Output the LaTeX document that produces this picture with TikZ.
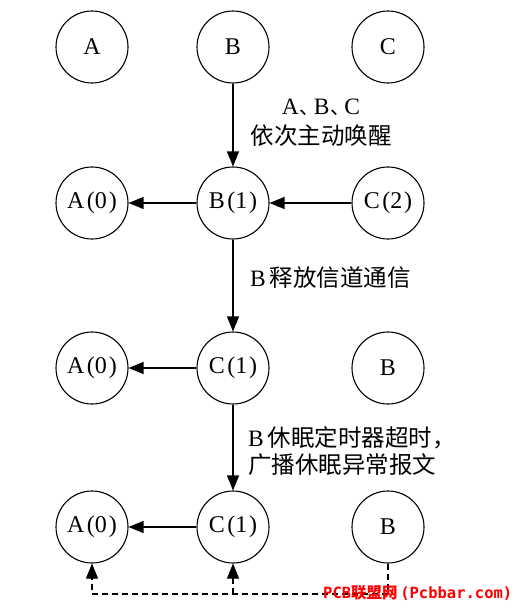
\documentclass[tikz,border=0pt]{standalone}
\usepackage{fontspec}
\setmainfont{Liberation Serif}
\newfontfamily\cjk{Noto Sans CJK SC}
\newfontfamily\wmono{DejaVu Sans Mono}
\usetikzlibrary{arrows.meta}
\newcommand{\pn}[2]{#1\kern2.5pt(#2\kern2pt)}
\newcommand{\dun}{\kern1pt\makebox[14pt][l]{\cjk\fontsize{20}{24}\selectfont 、}}
\begin{document}
\begin{tikzpicture}[x=1pt,y=-1pt,
  st/.style={circle,draw,line width=1.1pt,minimum size=72pt,inner sep=0pt,font=\fontsize{24}{26}\selectfont},
  arr/.style={line width=1.2pt,-{Triangle[length=15pt,width=12pt]}},
  darr/.style={line width=1.1pt,dash pattern=on 6pt off 4pt,-{Triangle[length=15pt,width=12pt]}},
  lbl/.style={font=\fontsize{23.5}{30}\selectfont,inner sep=0pt}]
\useasboundingbox (0,0) rectangle (530,608);
\node[st] (a0) at (92,47) {A};
\node[st] (b0) at (233,47) {B};
\node[st] (c0) at (388,47) {C};
\node[st] (a1) at (92,203) {\pn{A}{0}};
\node[st] (b1) at (233,203) {\pn{B}{1}};
\node[st] (c1) at (388,203) {\pn{C}{2}};
\node[st] (a2) at (92,368) {\pn{A}{0}};
\node[st] (c2) at (233,368) {\pn{C}{1}};
\node[st] (bb2) at (388,368) {B};
\node[st] (a3) at (92,527) {\pn{A}{0}};
\node[st] (c3) at (233,527) {\pn{C}{1}};
\node[st] (bb3) at (388,527) {B};
\draw[arr] (b0) -- (b1);
\draw[arr] (b1) -- (a1);
\draw[arr] (c1) -- (b1);
\draw[arr] (b1) -- (c2);
\draw[arr] (c2) -- (a2);
\draw[arr] (c2) -- (c3);
\draw[arr] (c3) -- (a3);
\coordinate (d1) at (388,594);
\coordinate (d2) at (92,594);
\draw[darr] (bb3.south) -- (d1) -- (d2) -- (a3.south);
\draw[darr] (c3.south |- d1) -- (c3.south);
\node[lbl,align=center] (l1) at (321,123) {A\dun B\dun C\\{\cjk 依次主动唤醒}};
\node[lbl,anchor=west] (l2) at (250,278) {B\,{\cjk 释放信道通信}};
\node[lbl,anchor=west,align=left,font=\fontsize{23.5}{27}\selectfont] (l3) at (248,451) {B\,{\cjk 休眠定时器超时，}\\{\cjk 广播休眠异常报文}};
\node[anchor=west,inner sep=0pt,text=red,font=\fontsize{15.5}{18}\selectfont] (wm) at (323,593) {\wmono\bfseries PCB{\cjk\bfseries 联盟网}\,(Pcbbar.com)};
\end{tikzpicture}
\end{document}
